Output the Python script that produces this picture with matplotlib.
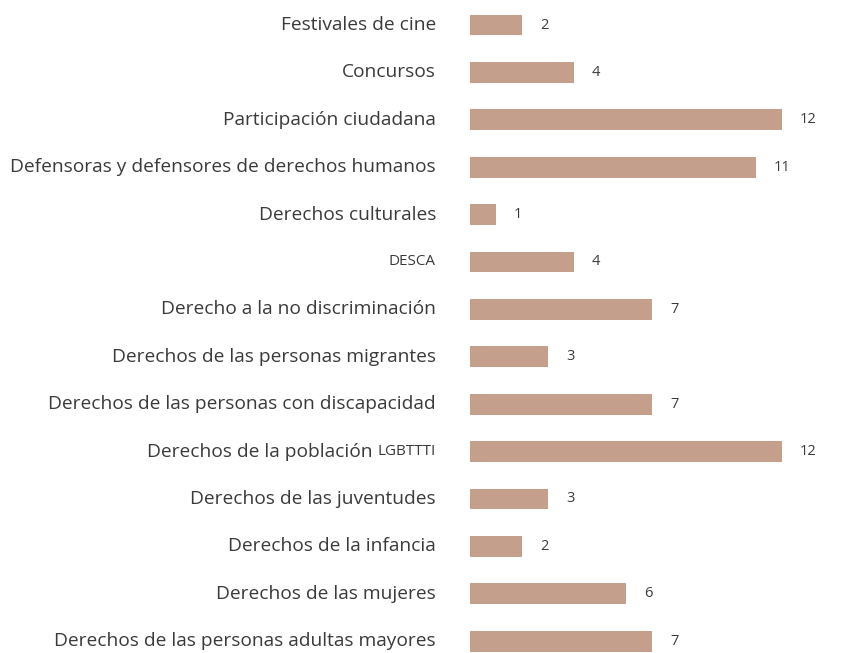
import matplotlib.pyplot as plt
from matplotlib.transforms import blended_transform_factory

categorias = [
    'Festivales de cine',
    'Concursos',
    'Participación ciudadana',
    'Defensoras y defensores de derechos humanos',
    'Derechos culturales',
    'DESCA',
    'Derecho a la no discriminación',
    'Derechos de las personas migrantes',
    'Derechos de las personas con discapacidad',
    'Derechos de la población LGBTTTI',
    'Derechos de las juventudes',
    'Derechos de la infancia',
    'Derechos de las mujeres',
    'Derechos de las personas adultas mayores',
]
valores = [2, 4, 12, 11, 1, 4, 7, 3, 7, 12, 3, 2, 6, 7]

color_barra = '#C4A08C'
color_texto = '#3a3a3a'
fuente = ['Open Sans', 'DejaVu Sans']

fig = plt.figure(figsize=(8.56, 6.53), dpi=100)
ax = fig.add_axes([470 / 856, 0, 386 / 856, 1])
pos = list(range(len(categorias)))
ax.barh(pos, valores, height=0.44, color=color_barra)
ax.set_xlim(0, 386 / 26)
ax.set_ylim(13.25, -0.528)
ax.axis('off')

# etiquetas de valores
for p, v in zip(pos, valores):
    ax.annotate(str(v), (v, p), xytext=(18, 0), textcoords='offset pixels',
                ha='left', va='center', fontsize=10.5, color=color_texto, family=fuente)

# etiquetas de categorias (algunas con siglas en tamaño menor)
tr = blended_transform_factory(fig.transFigure, ax.transData)
x_lab = 436 / 856
fig.canvas.draw()
renderer = fig.canvas.get_renderer()
for p, cat in zip(pos, categorias):
    if cat == 'DESCA':
        ax.text(x_lab, p, cat, transform=tr, ha='right', va='center',
                fontsize=11, color=color_texto, family=fuente)
    elif cat.endswith('LGBTTTI'):
        sig = ax.text(x_lab, p, 'LGBTTTI', transform=tr, ha='right', va='center',
                      fontsize=11, color=color_texto, family=fuente)
        w = sig.get_window_extent(renderer).width
        ax.annotate(cat.replace('LGBTTTI', '').rstrip() + ' ', (x_lab, p), xycoords=tr,
                    xytext=(-w, 0), textcoords='offset pixels', ha='right', va='center',
                    fontsize=13.8, color=color_texto, family=fuente)
    else:
        ax.text(x_lab, p, cat, transform=tr, ha='right', va='center',
                fontsize=13.8, color=color_texto, family=fuente)

fig.savefig('out.png', dpi=100, facecolor='white')
